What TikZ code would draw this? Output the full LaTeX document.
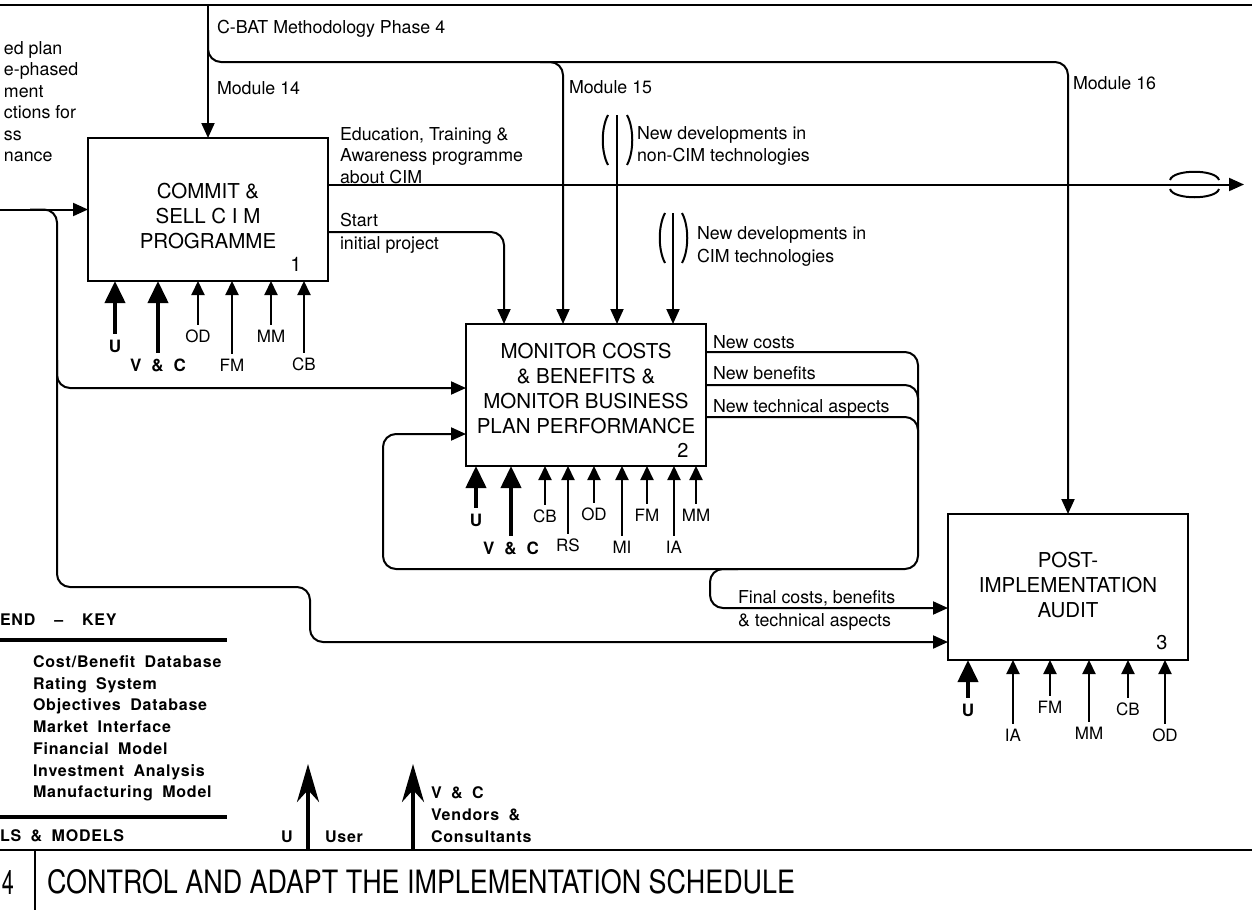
\documentclass[tikz,border=0pt]{standalone}
\usepackage{fontspec}
\usepackage{graphicx}
\setmainfont{TeX Gyre Heros}
\newfontfamily\keyfont[LetterSpace=5.0,WordSpace=1.8]{TeX Gyre Heros}
\usetikzlibrary{arrows.meta}

\begin{document}
\begin{tikzpicture}[x=1pt,y=-1pt,
  every node/.style={inner sep=0pt,outer sep=0pt},
  rule/.style={line width=2.4pt},
  keyrule/.style={line width=4pt},
  wire/.style={line width=2pt,rounded corners=13pt},
  flow/.style={wire,-{Triangle[length=15pt,width=13pt]}},
  feed/.style={line width=2pt,{Triangle[length=14pt,width=13pt]}-},
  heavyfeed/.style={line width=4pt,{Triangle[length=22pt,width=20pt]}-},
  keyarrow/.style={line width=3.5pt,-{Stealth[length=38pt,width=22pt,inset=12pt]}},
  tunnel/.style={line width=2pt},
  actbox/.style={draw,line width=2.6pt,minimum width=240pt},
  boxtext/.style={font=\fontsize{20.5}{25}\selectfont,align=center},
  boxnum/.style={font=\fontsize{20}{20}\selectfont},
  lab/.style={font=\fontsize{17.8}{22}\selectfont,align=left,anchor=base west},
  code/.style={font=\fontsize{17}{20}\selectfont,anchor=north,yshift=-5pt},
  keycode/.style={font=\keyfont\bfseries\fontsize{17}{20}\selectfont,anchor=north,yshift=-6pt},
  keytext/.style={font=\keyfont\bfseries\fontsize{16}{21.7}\selectfont,align=left,anchor=base west},
]
\useasboundingbox (0,0) rectangle (1252,910);
\clip (0,0) rectangle (1252,910);

% ---------- activity boxes ----------
\node[actbox,minimum height=143pt] (b1) at (208,209.5) {};
\node[actbox,minimum height=142pt] (b2) at (586,395) {};
\node[actbox,minimum height=146pt] (b3) at (1068,587) {};

\node[boxtext] (t1) at (208,216) {COMMIT \&\\SELL C I M\\PROGRAMME};
\node[boxtext] (t2) at (586,388.5) {MONITOR COSTS\\\& BENEFITS \&\\MONITOR BUSINESS\\PLAN PERFORMANCE};
\node[boxtext] (t3) at (1068,585) {POST-\\IMPLEMENTATION\\AUDIT};

\node[boxnum] (n1) at ([xshift=-32pt,yshift=17pt]b1.south east) {1};
\node[boxnum] (n2) at ([xshift=-23pt,yshift=16pt]b2.south east) {2};
\node[boxnum] (n3) at ([xshift=-26pt,yshift=17pt]b3.south east) {3};

% ---------- frame ----------
\draw[rule] (0,5) -- (1252,5);
\draw[rule] (0,850) -- (1252,850);
\draw[rule] (35,850) -- (35,910);

% ---------- methodology controls ----------
\coordinate (cbat) at (208,5);
\draw[flow] (cbat) -- (b1.north);
\draw[flow] (208,30) -- (208,62) -- (1068,62) -- (b3.north);
\draw[flow] (540,62) -- (563,62) -- ([xshift=-23pt]b2.north);
\node[lab] (cbatlab) at (217,33.5) {C-BAT Methodology Phase 4};
\node[lab] (m14) at (217,94.5) {Module 14};
\node[lab] (m15) at (569,93.5) {Module 15};
\node[lab] (m16) at (1073,89.5) {Module 16};

% left-hand input (text runs in from the previous sheet)
\node[lab,font=\fontsize{17.8}{21.4}\selectfont] (prev) at (4,161.5)
  {ed plan\\e-phased\\ment\\ctions for\\ss\\nance};
\coordinate (in) at (0,209.5);
\draw[flow] (in) -- (b1.west);
\draw[flow] (30,209.5) -- (57,209.5) -- (57,587) -- (310,587) -- (310,642) -- ([yshift=-55pt]b3.west);
\draw[flow] (57,360) -- (57,388) -- ([yshift=7pt]b2.west);

% ---------- outputs of box 1 ----------
\coordinate (edu) at (1244,184.5);
\draw[flow] ([yshift=25pt]b1.east) -- (edu);
\draw[tunnel] (1170,180) .. controls (1173,169) and (1216,169) .. (1219,180);
\draw[tunnel] (1170,189) .. controls (1173,200) and (1216,200) .. (1219,189);
\node[lab,font=\fontsize{17.8}{21.5}\selectfont] (edulab) at (340,183)
  {Education, Training \&\\Awareness programme\\about CIM};
\draw[flow] ([yshift=-22.5pt]b1.east) -- (504,232) -- ([xshift=-82pt]b2.north);
\node[lab,font=\fontsize{17.8}{23}\selectfont] (startlab) at (340,249.5) {Start\\initial project};

% ---------- technology developments (tunnelled) ----------
\coordinate (ncim) at (617,115);
\draw[flow] (ncim) -- ([xshift=31pt]b2.north);
\draw[tunnel] (608,115) .. controls (601,128) and (601,152) .. (608,165);
\draw[tunnel] (627,115) .. controls (634,128) and (634,152) .. (627,165);
\node[lab] (ncimlab) at (637,161.5) {New developments in\\non-CIM technologies};

\coordinate (cim) at (673,213);
\draw[flow] (cim) -- ([xshift=87pt]b2.north);
\draw[tunnel] (665,213) .. controls (658,226) and (658,250) .. (665,263);
\draw[tunnel] (682,213) .. controls (689,226) and (689,250) .. (682,263);
\node[lab,font=\fontsize{17.8}{23}\selectfont] (cimlab) at (697,262.5) {New developments in\\CIM technologies};

% ---------- feedback from box 2 ----------
\draw[flow] ([yshift=43pt]b2.east) -- (918,352) -- (918,569) -- (383,569) -- (383,434) -- ([yshift=-39pt]b2.west);
\draw[wire] ([yshift=10pt]b2.east) -- (918,385) -- (918,420);
\draw[wire] ([yshift=-22pt]b2.east) -- (918,417) -- (918,450);
\node[lab] (nc) at (713,348.4) {New costs};
\node[lab] (nb) at (713,379.4) {New benefits};
\node[lab] (nt) at (713,412.4) {New technical aspects};

\draw[flow] (738,569) -- (710,569) -- (710,608) -- ([yshift=-21pt]b3.west);
\node[lab,font=\fontsize{17.8}{23}\selectfont] (finlab) at (738,626) {Final costs, benefits\\\& technical aspects};

% ---------- mechanisms ----------
\draw[heavyfeed] ([xshift=27pt]b1.south west) -- ++(0,53) node[keycode] {U};
\draw[heavyfeed] ([xshift=70pt]b1.south west) -- ++(0,72) node[keycode] {V \& C};
\draw[feed] ([xshift=110pt]b1.south west) -- ++(0,44) node[code] {OD};
\draw[feed] ([xshift=144pt]b1.south west) -- ++(0,73) node[code] {FM};
\draw[feed] ([xshift=183pt]b1.south west) -- ++(0,44) node[code] {MM};
\draw[feed] ([xshift=216pt]b1.south west) -- ++(0,72) node[code] {CB};

\draw[heavyfeed] ([xshift=10pt]b2.south west) -- ++(0,42) node[keycode] {U};
\draw[heavyfeed] ([xshift=45pt]b2.south west) -- ++(0,70) node[keycode] {V \& C};
\draw[feed] ([xshift=79pt]b2.south west) -- ++(0,39) node[code] {CB};
\draw[feed] ([xshift=102pt]b2.south west) -- ++(0,68) node[code] {RS};
\draw[feed] ([xshift=128pt]b2.south west) -- ++(0,37) node[code] {OD};
\draw[feed] ([xshift=156pt]b2.south west) -- ++(0,70) node[code] {MI};
\draw[feed] ([xshift=181pt]b2.south west) -- ++(0,38) node[code] {FM};
\draw[feed] ([xshift=208pt]b2.south west) -- ++(0,70) node[code] {IA};
\draw[feed] ([xshift=230pt]b2.south west) -- ++(0,38) node[code] {MM};

\draw[heavyfeed] ([xshift=20pt]b3.south west) -- ++(0,38) node[keycode] {U};
\draw[feed] ([xshift=65pt]b3.south west) -- ++(0,64) node[code] {IA};
\draw[feed] ([xshift=102pt]b3.south west) -- ++(0,36) node[code] {FM};
\draw[feed] ([xshift=141pt]b3.south west) -- ++(0,62) node[code] {MM};
\draw[feed] ([xshift=180pt]b3.south west) -- ++(0,38) node[code] {CB};
\draw[feed] ([xshift=217pt]b3.south west) -- ++(0,64) node[code] {OD};

% ---------- legend ----------
\node[keytext] (keyhead) at (0,625.5) {END \ – \ KEY};
\draw[keyrule] (0,640) -- (227,640);
\node[keytext] (keylist) at (33,797.7)
  {Cost/Benefit Database\\Rating System\\Objectives Database\\Market Interface\\Financial Model\\Investment Analysis\\Manufacturing Model};
\draw[keyrule] (0,817) -- (227,817);
\node[keytext] (keyfoot) at (0,841.5) {LS \& MODELS};

\coordinate (ukey) at (308,850);
\coordinate (vkey) at (413,850);
\draw[keyarrow] (ukey) -- (308,764);
\draw[keyarrow] (vkey) -- (413,764);
\node[keytext] (ulab) at (281,842) {U};
\node[keytext] (userlab) at (325,842) {User};
\node[keytext,font=\keyfont\bfseries\fontsize{16}{22}\selectfont] (vclab) at (431,842) {V \& C\\Vendors \&\\Consultants};

% ---------- title ----------
\node[anchor=east] (nodeno) at (14,882) {\resizebox{12pt}{24pt}{\fontsize{30}{30}\selectfont 4}};
\node[anchor=west] (title) at (47,882) {\resizebox{748pt}{24pt}{\fontsize{30}{30}\selectfont CONTROL AND ADAPT THE IMPLEMENTATION SCHEDULE}};
\end{tikzpicture}
\end{document}
